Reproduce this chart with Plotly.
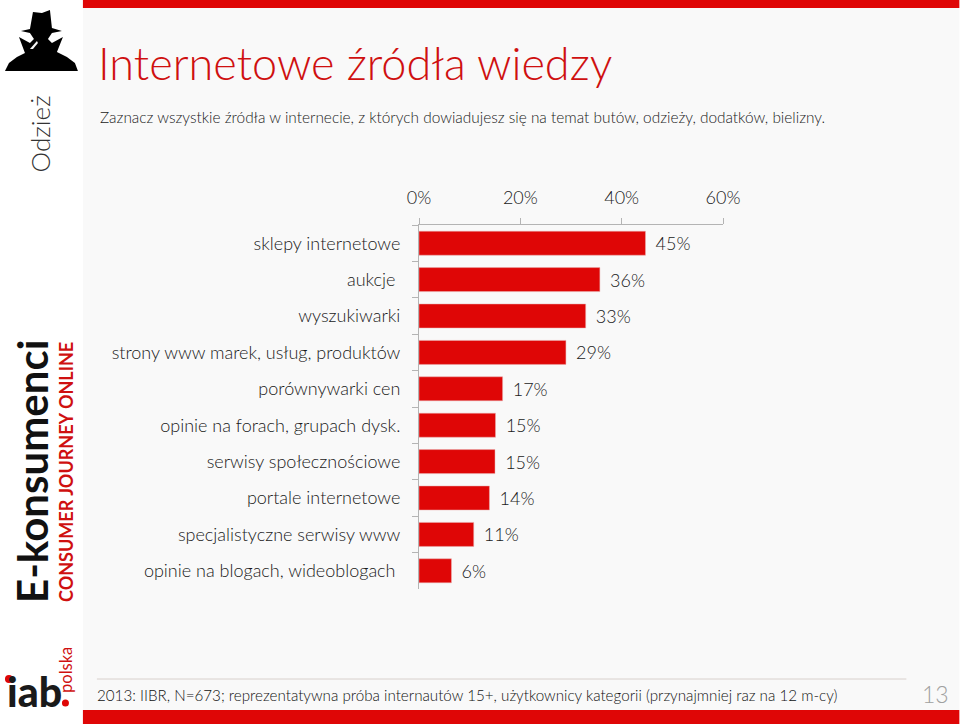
import plotly.graph_objects as go

categories = ["sklepy internetowe", "aukcje\u00a0", "wyszukiwarki", "strony www marek, usług, produktów",
              "porównywarki cen", "opinie na forach, grupach dysk.", "serwisy społecznościowe",
              "portale internetowe", "specjalistyczne serwisy www", "opinie na blogach, wideoblogach\u00a0"]
values = [44.7, 35.7, 32.9, 29.0, 16.5, 15.1, 15.0, 13.9, 10.8, 6.4]
value_labels = ["45%", "36%", "33%", "29%", "17%", "15%", "15%", "14%", "11%", "6%"]
x_ticks = [0, 20, 40, 60]
x_tick_labels = ["0%", "20%", "40%", "60%"]

L, R, T, B = 419.3, 723.5, 225.0, 589.0
W, H = 960, 724
RED = "#df0606"
FONT = "Lato"
INK = "#1a1a1a"


def px(x):
    return (x - L) / (R - L)


def py(y):
    return (B - y) / (B - T)


def rect(x0, y0, x1, y1, color):
    return dict(type="rect", xref="paper", yref="paper", x0=px(x0), x1=px(x1), y0=py(y0), y1=py(y1),
                fillcolor=color, line_width=0, layer="below")


def path(points, color):
    d = "M " + " L ".join(f"{px(a):.5f},{py(b):.5f}" for a, b in points) + " Z"
    return dict(type="path", xref="paper", yref="paper", path=d, fillcolor=color, line_width=0, layer="above")


def circle(cx, cy, r, color):
    return dict(type="circle", xref="paper", yref="paper", x0=px(cx - r), x1=px(cx + r), y0=py(cy + r), y1=py(cy - r),
                fillcolor=color, line_width=0, layer="above")


def note(x, y, text, size, color=INK, xanchor="left", angle=0, family=FONT, weight=300, yanchor="middle"):
    return dict(x=px(x), y=py(y), xref="paper", yref="paper", text=text, showarrow=False, xanchor=xanchor,
                yanchor=yanchor, textangle=angle, font=dict(size=size, color=color, family=family, weight=weight))


spy = [(5, 71), (9, 63), (17, 57), (25, 53), (19, 37), (30, 43), (34, 39), (30, 33), (21, 31), (30, 29), (33, 12),
       (42, 13), (50, 10), (52, 28), (62, 31), (52, 33), (48, 39), (52, 43), (63, 37), (57, 52), (67, 57), (75, 63),
       (78, 71)]

shapes = [
    rect(83, 0, 960, 724, "#f9f9f9"),
    rect(83, 0, 960, 8, RED),
    rect(83, 710, 960, 724, RED),
    path(spy, "#000000"),
    path([(30, 49), (37, 41), (38, 43), (33, 49)], "#f4f4f4"),
    dict(type="line", xref="paper", yref="paper", x0=px(97), x1=px(907), y0=py(679), y1=py(679),
         line=dict(color="#d8d0cc", width=1)),
    circle(9, 679, 4, RED),
    circle(65.5, 703, 3.5, RED),
]

annotations = [
    note(96, 63, "Internetowe źródła wiedzy", 45, color="#cf1010"),
    note(98, 117, "Zaznacz wszystkie źródła w internecie, z których dowiadujesz się na temat butów, odzieży, dodatków, bielizny.", 15.4),
    note(95, 695, "2013: IIBR, N=673; reprezentatywna próba internautów 15+, użytkownicy kategorii (przynajmniej raz na 12 m-cy)", 15.2, color="#111111"),
    note(936, 694, "13", 23, color="#a0a0a0", xanchor="center"),
    note(40, 133.5, "Odzież", 26, color="#333333", xanchor="center", angle=-90),
    note(32, 471, "E-konsumenci", 42, color="#111111", xanchor="center", angle=-90, weight=700),
    note(66, 472, "CONSUMER JOURNEY ONLINE", 18, color="#cf1010", xanchor="center", angle=-90, weight=700),
    note(5, 691, "iab", 41, color="#1a1a1a", weight=900),
    note(66, 670, "polska", 16.5, color="#cf1010", xanchor="center", angle=-90, weight=400),
]

fig = go.Figure(go.Bar(
    x=values, y=categories, orientation="h", width=0.66,
    marker=dict(color=RED, line=dict(color="#e8b0b0", width=0.5)),
    text=value_labels, textposition="outside", cliponaxis=False,
    texttemplate="\u00a0\u2009%{text}",
    textfont=dict(size=18, color=INK, family=FONT, weight=300),
))
fig.update_layout(
    width=W, height=H, autosize=False, showlegend=False,
    margin=dict(l=L, r=W - R, t=T, b=H - B, pad=0),
    paper_bgcolor="#ffffff", plot_bgcolor="rgba(0,0,0,0)",
    shapes=shapes, annotations=annotations,
    bargap=0.34,
    font=dict(family=FONT, color=INK, weight=300),
)
fig.update_xaxes(range=[0, 60], side="top", tickmode="array", tickvals=x_ticks, ticktext=x_tick_labels,
                 showgrid=False, zeroline=False, showline=True, linecolor="#b4b4b4", linewidth=1,
                 ticks="outside", ticklen=6, tickcolor="#b4b4b4", tickwidth=1,
                 tickfont=dict(size=18, color=INK, family=FONT, weight=300), ticklabelstandoff=7)
fig.update_yaxes(autorange="reversed", tickson="boundaries", showgrid=False, zeroline=False, showline=True,
                 linecolor="#b4b4b4", linewidth=1, ticks="outside", ticklen=6, tickcolor="#b4b4b4", tickwidth=1,
                 tickfont=dict(size=18, color=INK, family=FONT, weight=300), ticklabelstandoff=14)
fig.write_html("out.html", config=dict(displayModeBar=False),
               post_script="document.body.style.margin='0';document.documentElement.style.overflow='hidden';")
